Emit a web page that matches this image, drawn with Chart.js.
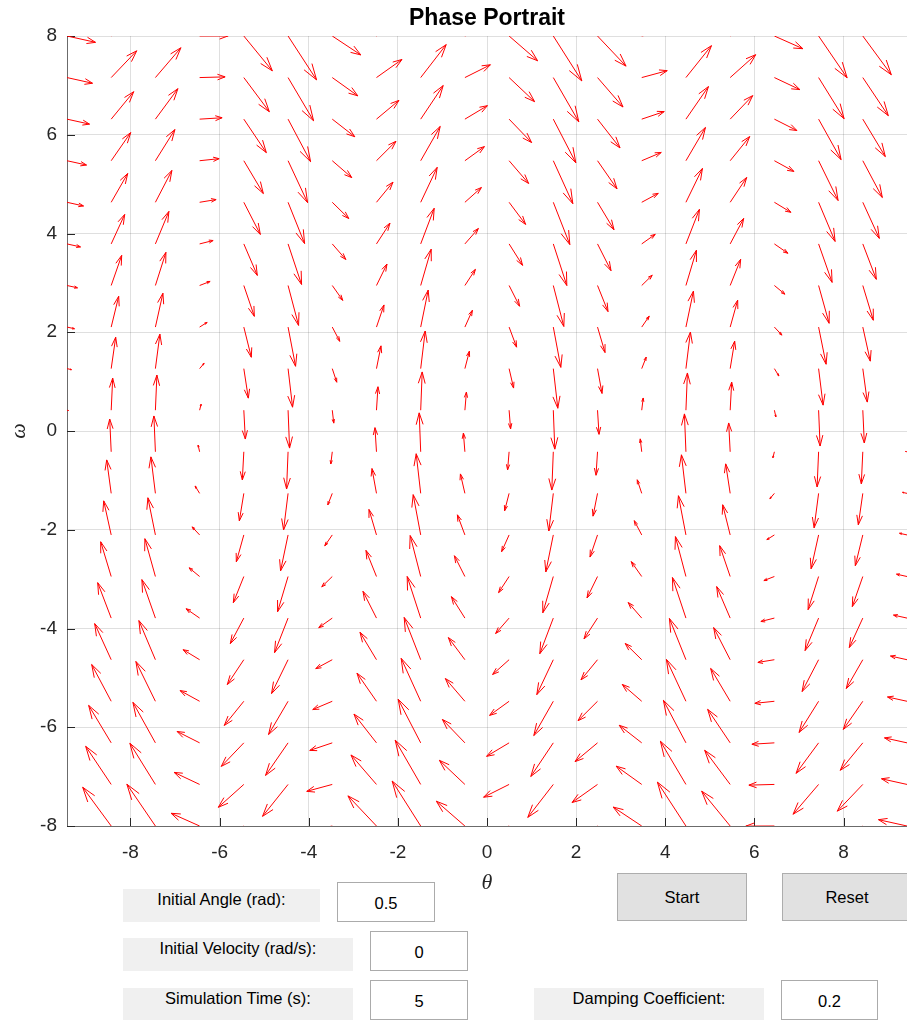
<!DOCTYPE html>
<html>
<head>
<meta charset="utf-8">
<title>Phase Portrait</title>
<script src="https://cdn.jsdelivr.net/npm/chart.js@4.4.0/dist/chart.umd.min.js"></script>
<style>
    body {
        margin: 0;
        width: 907px;
        height: 1020px;
        overflow: hidden;
        position: relative;
        background: #fff;
        font-family: "Liberation Sans", Arial, sans-serif;
    }
    #phaseChart { position: absolute; left: 0; top: 0; }
    .lbl, .inp, .btn {
        position: absolute;
        box-sizing: border-box;
        font-size: 16.5px;
        color: #000;
    }
    .lbl { background: #f0f0f0; text-align: center; line-height: 19px; padding-top: 1px; }
    .inp {
        background: #fff;
        border: 1px solid #ababab;
        display: flex; align-items: center; justify-content: center;
        padding-top: 2px;
    }
    .btn {
        background: #e1e1e1;
        border: 1px solid #adadad;
        display: flex; align-items: center; justify-content: center;
    }
</style>
</head>
<body>
<canvas id="phaseChart" width="907" height="900"></canvas>

<div class="lbl" style="left:123px; top:889px; width:197px; height:33px;">Initial Angle (rad):</div>
<div class="inp" style="left:337px; top:882px; width:98px; height:40px;">0.5</div>
<div class="lbl" style="left:123px; top:938px; width:230px; height:33px;">Initial Velocity (rad/s):</div>
<div class="inp" style="left:370px; top:931px; width:98px; height:40px;">0</div>
<div class="lbl" style="left:123px; top:988px; width:230px; height:33px;">Simulation Time (s):</div>
<div class="inp" style="left:370px; top:980px; width:98px; height:40px;">5</div>
<div class="btn" style="left:617px; top:873px; width:130px; height:48px;">Start</div>
<div class="btn" style="left:782px; top:873px; width:130px; height:48px;">Reset</div>
<div class="lbl" style="left:534px; top:988px; width:230px; height:33px;">Damping Coefficient:</div>
<div class="inp" style="left:781px; top:980px; width:97px; height:40px;">0.2</div>

<script>
// grid of the quiver plot (theta columns, omega rows)
const theta = [-9.425, -8.433, -7.441, -6.449, -5.457, -4.464, -3.472, -2.480, -1.488, -0.496,
               0.496, 1.488, 2.480, 3.472, 4.464, 5.457, 6.449, 7.441, 8.433, 9.425];
const omega = [-8, -7.158, -6.316, -5.474, -4.632, -3.789, -2.947, -2.105, -1.263, -0.421,
               0.421, 1.263, 2.105, 2.947, 3.789, 4.632, 5.474, 6.316, 7.158, 8];

// d(omega)/dt at each grid point, one row per omega value
const dOmega = [
    [1.60, 9.81, 10.58, 3.22, -5.62, -7.91, -1.59, 7.63, 11.38, 6.27, -3.07, -8.18, -4.43, 4.79, 11.11, 8.82, -0.02, -7.38, -6.61, 1.60],
    [1.43, 9.65, 10.42, 3.05, -5.79, -8.08, -1.75, 7.46, 11.21, 6.10, -3.24, -8.35, -4.59, 4.62, 10.94, 8.65, -0.18, -7.55, -6.78, 1.43],
    [1.26, 9.48, 10.25, 2.88, -5.96, -8.25, -1.92, 7.29, 11.04, 5.93, -3.41, -8.51, -4.76, 4.45, 10.77, 8.48, -0.35, -7.72, -6.95, 1.26],
    [1.09, 9.31, 10.08, 2.71, -6.12, -8.42, -2.09, 7.12, 10.87, 5.76, -3.57, -8.68, -4.93, 4.28, 10.60, 8.31, -0.52, -7.89, -7.12, 1.09],
    [0.93, 9.14, 9.91, 2.54, -6.29, -8.58, -2.26, 6.95, 10.70, 5.60, -3.74, -8.85, -5.10, 4.11, 10.44, 8.14, -0.69, -8.06, -7.29, 0.93],
    [0.76, 8.97, 9.74, 2.37, -6.46, -8.75, -2.43, 6.78, 10.53, 5.43, -3.91, -9.02, -5.27, 3.94, 10.27, 7.98, -0.86, -8.23, -7.46, 0.76],
    [0.59, 8.80, 9.57, 2.20, -6.63, -8.92, -2.60, 6.61, 10.37, 5.26, -4.08, -9.19, -5.44, 3.77, 10.10, 7.81, -1.03, -8.39, -7.62, 0.59],
    [0.42, 8.63, 9.41, 2.04, -6.80, -9.09, -2.76, 6.45, 10.20, 5.09, -4.25, -9.36, -5.60, 3.61, 9.93, 7.64, -1.19, -8.56, -7.79, 0.42],
    [0.25, 8.47, 9.24, 1.87, -6.97, -9.26, -2.93, 6.28, 10.03, 4.92, -4.42, -9.52, -5.77, 3.44, 9.76, 7.47, -1.36, -8.73, -7.96, 0.25],
    [0.08, 8.30, 9.07, 1.70, -7.13, -9.43, -3.10, 6.11, 9.86, 4.75, -4.58, -9.69, -5.94, 3.27, 9.59, 7.30, -1.53, -8.90, -8.13, 0.08],
    [-0.08, 8.13, 8.90, 1.53, -7.30, -9.59, -3.27, 5.94, 9.69, 4.58, -4.75, -9.86, -6.11, 3.10, 9.43, 7.13, -1.70, -9.07, -8.30, -0.08],
    [-0.25, 7.96, 8.73, 1.36, -7.47, -9.76, -3.44, 5.77, 9.52, 4.42, -4.92, -10.03, -6.28, 2.93, 9.26, 6.97, -1.87, -9.24, -8.47, -0.25],
    [-0.42, 7.79, 8.56, 1.19, -7.64, -9.93, -3.61, 5.60, 9.36, 4.25, -5.09, -10.20, -6.45, 2.76, 9.09, 6.80, -2.04, -9.41, -8.63, -0.42],
    [-0.59, 7.62, 8.39, 1.03, -7.81, -10.10, -3.77, 5.44, 9.19, 4.08, -5.26, -10.37, -6.61, 2.60, 8.92, 6.63, -2.20, -9.57, -8.80, -0.59],
    [-0.76, 7.46, 8.23, 0.86, -7.98, -10.27, -3.94, 5.27, 9.02, 3.91, -5.43, -10.53, -6.78, 2.43, 8.75, 6.46, -2.37, -9.74, -8.97, -0.76],
    [-0.93, 7.29, 8.06, 0.69, -8.14, -10.44, -4.11, 5.10, 8.85, 3.74, -5.60, -10.70, -6.95, 2.26, 8.58, 6.29, -2.54, -9.91, -9.14, -0.93],
    [-1.09, 7.12, 7.89, 0.52, -8.31, -10.60, -4.28, 4.93, 8.68, 3.57, -5.76, -10.87, -7.12, 2.09, 8.42, 6.12, -2.71, -10.08, -9.31, -1.09],
    [-1.26, 6.95, 7.72, 0.35, -8.48, -10.77, -4.45, 4.76, 8.51, 3.41, -5.93, -11.04, -7.29, 1.92, 8.25, 5.96, -2.88, -10.25, -9.48, -1.26],
    [-1.43, 6.78, 7.55, 0.18, -8.65, -10.94, -4.62, 4.59, 8.35, 3.24, -6.10, -11.21, -7.46, 1.75, 8.08, 5.79, -3.05, -10.42, -9.65, -1.43],
    [-1.60, 6.61, 7.38, 0.02, -8.82, -11.11, -4.79, 4.43, 8.18, 3.07, -6.27, -11.38, -7.63, 1.59, 7.91, 5.62, -3.22, -10.58, -9.81, -1.60]
];

const xTicks = [-8, -6, -4, -2, 0, 2, 4, 6, 8];
const yTicks = [-8, -6, -4, -2, 0, 2, 4, 6, 8];

(() => {
    const SANS = '"Liberation Sans", Arial, sans-serif';
    const SERIF = '"Liberation Serif", "Times New Roman", serif';

    // quiver-style arrows: shaft + head, autoscaled like MATLAB's quiver
    function buildArrows() {
        const delx = (theta[theta.length - 1] - theta[0]) / theta.length;
        const dely = (omega[omega.length - 1] - omega[0]) / omega.length;
        const cell = Math.hypot(delx, dely);
        let maxLen = 0;
        omega.forEach((w, i) => theta.forEach((t, j) => {
            maxLen = Math.max(maxLen, Math.hypot(w, dOmega[i][j]) / cell);
        }));
        const k = 0.9 / maxLen;
        const alpha = 0.3, beta = 0.33;
        const gap = { x: null, y: null };
        const pts = [];
        omega.forEach((w, i) => theta.forEach((t, j) => {
            const u = w * k;              // d(theta)/dt = omega
            const v = dOmega[i][j] * k;
            const tx = t + u, ty = w + v;
            pts.push({ x: t, y: w }, { x: tx, y: ty }, gap);
            pts.push(
                { x: tx - alpha * (u + beta * v), y: ty - alpha * (v - beta * u) },
                { x: tx, y: ty },
                { x: tx - alpha * (u - beta * v), y: ty - alpha * (v + beta * u) },
                gap
            );
        }));
        return pts;
    }

    // MATLAB draws its tick marks pointing into the axes
    const inwardTicks = {
        id: 'inwardTicks',
        beforeDatasetsDraw(chart) {
            const { ctx, chartArea: a, scales: { x, y } } = chart;
            ctx.save();
            ctx.strokeStyle = '#262626';
            ctx.lineWidth = 1;
            ctx.beginPath();
            x.ticks.forEach(t => {
                const px = Math.round(x.getPixelForValue(t.value)) + 0.5;
                ctx.moveTo(px, a.bottom);
                ctx.lineTo(px, a.bottom - 8);
            });
            y.ticks.forEach(t => {
                const py = Math.round(y.getPixelForValue(t.value)) + 0.5;
                ctx.moveTo(a.left, py);
                ctx.lineTo(a.left + 8, py);
            });
            ctx.stroke();
            ctx.restore();
        }
    };

    const gridColor = 'rgba(38,38,38,0.15)';
    const axisBorder = { display: true, color: '#6b6b6b', width: 1 };

    new Chart(document.getElementById('phaseChart'), {
        type: 'scatter',
        data: {
            datasets: [{
                data: buildArrows(),
                showLine: true,
                spanGaps: false,
                borderColor: '#ff0000',
                borderWidth: 1,
                borderJoinStyle: 'round',
                borderDash: [10000, 0],
                pointRadius: 0,
                pointHoverRadius: 0,
                fill: false
            }]
        },
        options: {
            responsive: false,
            animation: false,
            events: [],
            layout: { padding: 0 },
            plugins: {
                legend: { display: false },
                tooltip: { enabled: false },
                title: {
                    display: true,
                    fullSize: false,   // centre over the axes, not the whole canvas
                    text: 'Phase Portrait',
                    color: '#000',
                    font: { family: SANS, size: 23, weight: 'bold' },
                    padding: { top: 5, bottom: 3.4 }
                }
            },
            scales: {
                x: {
                    type: 'linear',
                    min: -3 * Math.PI,
                    max: 3 * Math.PI,
                    afterBuildTicks: s => { s.ticks = xTicks.map(v => ({ value: v })); },
                    afterFit: s => { s.height = 74; },
                    grid: { color: gridColor, drawTicks: false },
                    border: axisBorder,
                    ticks: { color: '#262626', font: { family: SANS, size: 19 }, padding: 15, maxRotation: 0, autoSkip: false },
                    title: {
                        display: true, text: 'θ', color: '#262626',
                        font: { family: SERIF, size: 22, style: 'italic' },
                        padding: { top: 0, bottom: 4 }
                    }
                },
                y: {
                    type: 'linear',
                    min: -8,
                    max: 8,
                    afterBuildTicks: s => { s.ticks = yTicks.map(v => ({ value: v })); },
                    afterFit: s => { s.width = 67; },
                    grid: { color: gridColor, drawTicks: false },
                    border: axisBorder,
                    ticks: { color: '#262626', font: { family: SANS, size: 19 }, padding: 10, autoSkip: false },
                    title: {
                        display: true, text: 'ω', color: '#262626',
                        font: { family: SERIF, size: 22, style: 'italic' },
                        padding: { top: 6, bottom: 0 }
                    }
                }
            }
        },
        plugins: [inwardTicks]
    });
})();
</script>
</body>
</html>
